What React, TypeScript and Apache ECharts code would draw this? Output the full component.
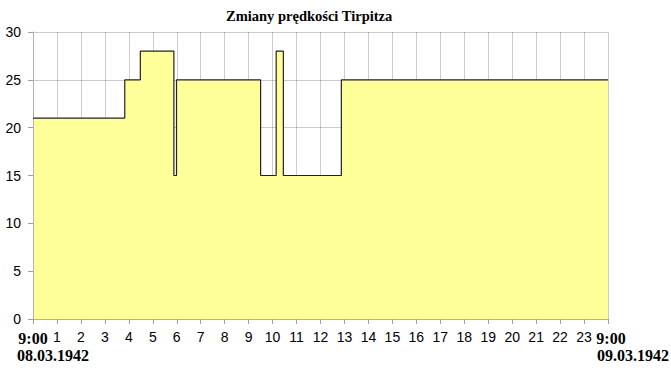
import React, { useEffect, useRef } from "react";
import * as echarts from "echarts";

const title = "Zmiany prędkości Tirpitza";
// hours elapsed since 9:00 on 08.03.1942, start of each speed step
const hours = [0, 3.83, 4.48, 5.88, 5.99, 9.5, 10.15, 10.45, 12.87, 24];
// speed in knots from that moment
const speeds = [21, 25, 28, 15, 25, 15, 28, 15, 25, 25];
const startDate = "08.03.1942";
const endDate = "09.03.1942";
const edgeLabel = "9:00";

export default function App() {
  const ref = useRef<HTMLDivElement>(null);
  useEffect(() => {
    document.body.style.margin = "0";
    const chart = echarts.init(ref.current!, null, { renderer: "svg" });
    const serif = "'Liberation Serif', 'Times New Roman', serif";
    const sans = "'Liberation Sans', Arial, sans-serif";
    chart.setOption({
      animation: false,
      backgroundColor: "#ffffff",
      title: {
        text: title,
        left: 226,
        top: 8,
        padding: 0,
        textStyle: { fontFamily: serif, fontWeight: "bold", fontSize: 14.5, color: "#000" },
      },
      grid: { left: 33, right: 63, top: 32, bottom: 49, containLabel: false },
      xAxis: {
        type: "value",
        min: 0,
        max: 24,
        interval: 1,
        z: 3,
        axisLine: { show: true, lineStyle: { color: "#b0b0b0", width: 1 } },
        axisTick: { show: true, length: 5, lineStyle: { color: "#a0a0a0" } },
        splitLine: { show: true, lineStyle: { color: "rgba(0,0,0,0.2)", width: 1 } },
        axisLabel: {
          margin: 11,
          fontFamily: sans,
          fontSize: 14,
          color: "#000",
          showMinLabel: true,
          showMaxLabel: true,
          formatter: (v: number) =>
            v === 0 ? `{b|${edgeLabel}}` : v === 24 ? `{c|${edgeLabel}}` : String(v),
          rich: {
            b: { fontFamily: serif, fontWeight: "bold", fontSize: 16, color: "#000" },
            c: { fontFamily: serif, fontWeight: "bold", fontSize: 16, color: "#000", padding: [0, 0, 0, 6] },
          },
        },
      },
      yAxis: {
        type: "value",
        min: 0,
        max: 30,
        interval: 5,
        z: 3,
        axisLine: { show: true, lineStyle: { color: "#b0b0b0", width: 1 } },
        axisTick: { show: true, length: 5, lineStyle: { color: "#a0a0a0" } },
        splitLine: { show: true, lineStyle: { color: "rgba(0,0,0,0.2)", width: 1 } },
        axisLabel: { margin: 12, fontFamily: sans, fontSize: 14, color: "#000" },
      },
      graphic: [
        {
          type: "text",
          left: 17,
          top: 347,
          style: { text: startDate, font: `bold 16px ${serif}`, fill: "#000" },
        },
        {
          type: "text",
          left: 597,
          top: 347,
          style: { text: endDate, font: `bold 16px ${serif}`, fill: "#000" },
        },
      ],
      series: [
        {
          type: "line",
          step: "end",
          symbol: "none",
          data: hours.map((h, i) => [h, speeds[i]]),
          lineStyle: { color: "#222", width: 1.2 },
          areaStyle: { color: "#ffff99", opacity: 1 },
        },
      ],
    });
    return () => chart.dispose();
  }, []);
  return <div ref={ref} style={{ position: "absolute", left: 0, top: 0, width: 671, height: 368 }} />;
}
